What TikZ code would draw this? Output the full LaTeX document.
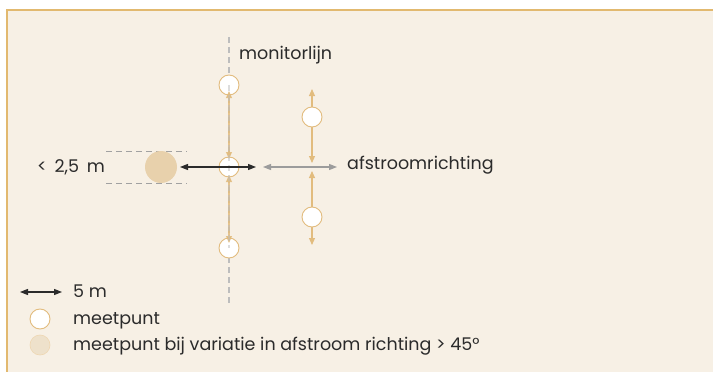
\documentclass[tikz,border=0pt]{standalone}
\usepackage{fontspec}
\setmainfont{Poppins}
\usetikzlibrary{arrows.meta}
\definecolor{bg}{HTML}{F7F0E5}
\definecolor{frame}{HTML}{E2B96F}
\definecolor{tanline}{HTML}{E2BC7E}
\definecolor{tanfill}{HTML}{E8D1AC}
\definecolor{palefill}{HTML}{EEE1CB}
\definecolor{grayline}{HTML}{BDBDBD}
\definecolor{grayarrow}{HTML}{9C9C9C}
\definecolor{txt}{HTML}{2B2B2B}
\begin{document}
\begin{tikzpicture}[x=1pt,y=-1pt,
  meet/.style={circle,draw=tanline,fill=white,line width=0.9pt,minimum size=20pt,inner sep=0pt},
  meetvar/.style={circle,fill=tanfill,minimum size=32pt,inner sep=0pt},
  meetpale/.style={circle,draw=tanline!60,fill=palefill,line width=0.6pt,minimum size=20pt,inner sep=0pt},
  tanarrow/.style={draw=tanline,line width=1.1pt,{Triangle[length=7pt,width=6pt]}-{Triangle[length=7pt,width=6pt]}},
  tanarrowd/.style={draw=tanline,line width=1.1pt,draw opacity=0.85,{Triangle[length=7pt,width=6pt]}-{Triangle[length=7pt,width=6pt]}},
  grayarr/.style={draw=grayarrow,line width=1.3pt,{Triangle[length=8pt,width=6pt]}-{Triangle[length=8pt,width=6pt]}},
  blackarr/.style={draw=txt,line width=1.3pt,{Triangle[length=8pt,width=6pt]}-{Triangle[length=8pt,width=6pt]}},
  guide/.style={draw=grayline,line width=1.2pt,dash pattern=on 6pt off 4pt},
  thinguide/.style={draw=grayline!85!black,line width=0.7pt,dash pattern=on 6pt off 4pt},
  lbl/.style={anchor=base west,inner sep=0pt,text=txt,font=\fontsize{17.5pt}{20pt}\selectfont}]
\useasboundingbox (0,0) rectangle (713,372);
\fill[white] (0,0) rectangle (713,372);
\fill[bg] (7,10) rectangle (713,372);
\draw[frame,line width=1.2pt] (7,372) -- (7,10) -- (713,10);

% monitor line
\coordinate (mlt) at (229,37);
\coordinate (mlb) at (229,303);
\draw[guide] (mlt) -- (mlb);

% variation point with guide lines
\coordinate (g1a) at (106,151.5);
\coordinate (g1b) at (187,151.5);
\coordinate (g2a) at (106,183);
\coordinate (g2b) at (187,183);
\draw[thinguide] (g1a) -- (g1b);
\draw[thinguide] (g2a) -- (g2b);
\node[meetvar] (t) at (161,167) {};
\node[lbl] (tl) at (37,172) {<\hspace{3pt} 2,5\hspace{3pt} m};

% monitor line points
\node[meet] (m1) at (229,85) {};
\node[meet] (m2) at (229,167) {};
\node[meet] (m3) at (229,248) {};
\draw[tanarrowd,shorten <=6pt,shorten >=8pt] (m1.center) -- (m2.center);
\draw[tanarrowd,shorten <=8pt,shorten >=5pt] (m2.center) -- (m3.center);
\draw[guide,draw opacity=0.5] (m1.center) -- (m3.center);

% black arrow
\coordinate (bl) at (180,167);
\coordinate (br) at (256,167);
\draw[blackarr] (bl) -- (br);

% right column
\coordinate (r1t) at (312,89);
\coordinate (r1b) at (312,163);
\coordinate (r2t) at (312,171);
\coordinate (r2b) at (312,245);
\draw[tanarrow] (r1t) -- (r1b);
\draw[tanarrow] (r2t) -- (r2b);
\node[meet] (r1) at (312,117) {};
\node[meet] (r2) at (312,217) {};

% gray flow arrow
\coordinate (ga) at (263,167);
\coordinate (gb) at (337,167);
\draw[grayarr] (ga) -- (gb);

\node[lbl] (mon) at (239,59) {monitorlijn};
\node[lbl] (afs) at (347,169) {afstroomrichting};

% legend
\coordinate (la) at (20,292);
\coordinate (lb) at (62,292);
\draw[blackarr,line width=1.1pt] (la) -- (lb);
\node[lbl] (l1) at (73,297) {5 m};
\node[meet] (lc1) at (40,319) {};
\node[lbl] (l2) at (73,324) {meetpunt};
\node[meetpale] (lc2) at (40,345) {};
\node[lbl] (l3) at (73,350) {meetpunt bij variatie in afstroom richting > 45°};
\end{tikzpicture}
\end{document}
